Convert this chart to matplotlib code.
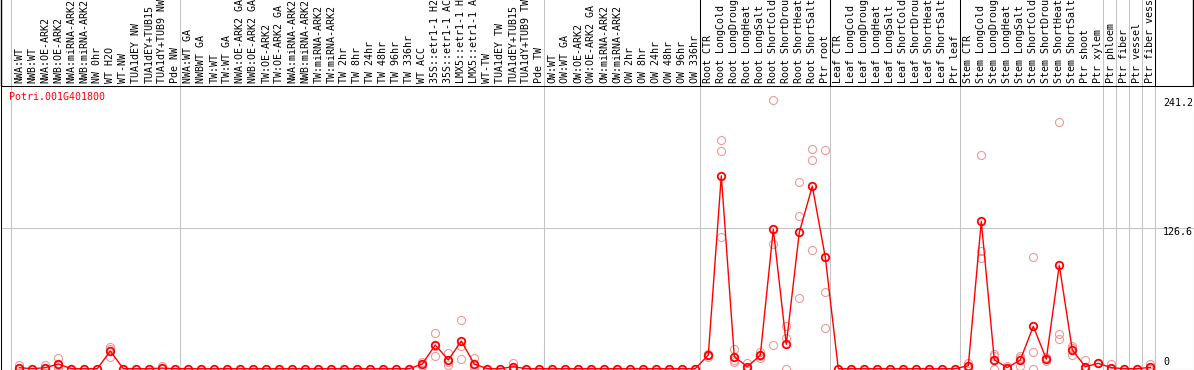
import numpy as np
import matplotlib
matplotlib.use('Agg')
import matplotlib.pyplot as plt

gene = 'Potri.001G401800'

labels = ['NWA:WT', 'NWB:WT', 'NWA:OE-ARK2', 'NWB:OE-ARK2', 'NWA:miRNA-ARK2', 'NWB:miRNA-ARK2',
          'NW 0hr', 'WT H2O', 'WT-NW', 'TUA1dEY NW', 'TUA1dEY+TUB15', 'TUA1dY+TUB9 NW', 'Pde NW',
          'NWA:WT GA', 'NWBWT GA', 'TW:WT', 'TW:WT GA', 'NWA:OE-ARK2 GA', 'NWB:OE-ARK2 GA',
          'TW:OE-ARK2', 'TW:OE-ARK2 GA', 'NWA:miRNA-ARK2', 'NWB:miRNA-ARK2', 'TW:miRNA-ARK2',
          'TW:miRNA-ARK2', 'TW 2hr', 'TW 8hr', 'TW 24hr', 'TW 48hr', 'TW 96hr', 'TW 336hr',
          'WT ACC', '35S::etr1-1 H2', '35S::etr1-1 AC', 'LMX5::etr1-1 H', 'LMX5::etr1-1 A',
          'WT-TW', 'TUA1dEY TW', 'TUA1dEY+TUB15', 'TUA1dY+TUB9 TW', 'Pde TW',
          'OW:WT', 'OW:WT GA', 'OW:OE-ARK2', 'OW:OE-ARK2 GA', 'OW:miRNA-ARK2', 'OW:miRNA-ARK2',
          'OW 2hr', 'OW 8hr', 'OW 24hr', 'OW 48hr', 'OW 96hr', 'OW 336hr',
          'Root CTR', 'Root LongCold', 'Root LongDroug', 'Root LongHeat', 'Root LongSalt',
          'Root ShortCold', 'Root ShortDrou', 'Root ShortHeat', 'Root ShortSalt', 'Ptr root',
          'Leaf CTR', 'Leaf LongCold', 'Leaf LongDroug', 'Leaf LongHeat', 'Leaf LongSalt',
          'Leaf ShortCold', 'Leaf ShortDrou', 'Leaf ShortHeat', 'Leaf ShortSalt', 'Ptr leaf',
          'Stem CTR', 'Stem LongCold', 'Stem LongDroug', 'Stem LongHeat', 'Stem LongSalt',
          'Stem ShortCold', 'Stem ShortDrou', 'Stem ShortHeat', 'Stem ShortSalt', 'Ptr shoot',
          'Ptr xylem', 'Ptr phloem', 'Ptr fiber', 'Ptr vessel', 'Ptr fiber vess']

means = [0.9, 0, 0.9, 4.2, 0, 0, 0, 15.9, 0, 0, 0, 0.5, 0,
         0, 0, 0, 0, 0, 0, 0, 0, 0, 0, 0, 0, 0, 0, 0, 0, 0, 0,
         4.2, 21.3, 7.8, 24.8, 4.2, 0, 0, 1.8, 0, 0,
         0, 0, 0, 0, 0, 0, 0, 0, 0, 0, 0, 0,
         12.3, 173.0, 10.8, 1.8, 12.0, 125.0, 21.9, 122.3, 163.6, 99.9,
         0, 0, 0, 0, 0, 0, 0, 0, 0, 0,
         2.7, 132.2, 8.0, 1.0, 7.8, 38.0, 8.6, 92.7, 16.8, 1.8, 4.8,
         0.9, 0, 0, 1.2]

# replicate values, by sample index
reps = {0: [3.3, 0, 0], 2: [3.3, 0, 0], 3: [9.3, 3.0, 0.5], 7: [19.7, 17.6, 10.2],
        11: [2.7, 0], 31: [6.2, 4.0, 2.4], 32: [31.7, 20.8, 11.4], 33: [13.8, 6.3, 3.3],
        34: [43.7, 20.4, 8.4], 35: [9.3, 2.4, 0.9], 38: [5.4, 0, 0],
        53: [13.5, 12.6, 10.8], 54: [204.8, 195.0, 118.4], 55: [18.0, 7.8, 6.3],
        56: [5.4, 0, 0], 57: [15.3, 11.0, 9.9], 58: [241.2, 111.6, 21.3],
        59: [38.3, 27.8, 0], 60: [167.4, 137.0, 63.1], 61: [196.8, 187.2, 106.2],
        62: [195.9, 68.8, 36.5], 73: [5.0, 2.4, 0.6], 74: [191.4, 105.8, 99.0],
        75: [12.9, 11.4, 0], 76: [2.4, 0.6, 0], 77: [11.4, 9.3, 2.7], 78: [99.9, 15.3, 0],
        79: [10.8, 8.4, 6.9], 80: [221.0, 31.1, 26.4], 81: [20.4, 18.3, 12.0],
        82: [7.5, 0, 0], 83: [5.5], 84: [4.2, 0], 87: [4.2, 0]}

group_starts = [0, 13, 41, 53, 63, 73, 84, 85, 86, 87, 88]
dark_starts = [53, 63, 73, 88]
ytick_vals = [241.2, 126.6, 0]

W, H = 1194, 370
fig = plt.figure(figsize=(W / 100, H / 100), dpi=100)

# plot box in pixels (label strip sits above it)
left, right, top, bottom = 0.5, 1193.5, 85.5, 369.5
ax = fig.add_axes([left / W, 1 - bottom / H, (right - left) / W, (bottom - top) / H])
x0, dx = 19.3, 13.0
y0, k = 368.7, 1.115
ax.set_xlim((left - x0) / dx, (right - x0) / dx)
ax.set_ylim((y0 - bottom) / k, (y0 - top) / k)
ax.set_xticks([])
ax.set_yticks([])
for s in ax.spines.values():
    s.set_color('black')
    s.set_linewidth(0.75)

y_fig_top = y0 / k
y_lab = (y0 - 83) / k
mono = 'DejaVu Sans Mono'
fs = 7.2

# group separators
for g in group_starts:
    xs = g - 0.64
    ax.axvline(xs, color='#c4c4c4', lw=0.75, zorder=0)
    c = 'black' if g in dark_starts else '#c4c4c4'
    ax.plot([xs, xs], [ax.get_ylim()[1], y_fig_top + 5], color=c, lw=0.75, clip_on=False)

for xe in ax.get_xlim():
    ax.plot([xe, xe], [ax.get_ylim()[1], y_fig_top + 5], color='black', lw=1.0, clip_on=False)

ax.axhline(ytick_vals[1], color='#c4c4c4', lw=0.75, zorder=0)

x = np.arange(len(means))
for i, lab in enumerate(labels):
    ax.text(i, y_lab, lab, rotation=90, ha='center', va='bottom', family=mono,
            fontsize=fs, clip_on=False)

for i, r in reps.items():
    ax.plot([i] * len(r), r, linestyle='none', marker='o', ms=5.8, mfc='none',
            mec='#ee9a9a', mew=0.8, zorder=2)

ax.plot(x, means, color='red', lw=1.0, marker='o', ms=5.4, mfc='none', mec='red',
        mew=1.3, zorder=3)

ax.text((9.3 - x0) / dx, (y0 - 97) / k, gene, color='red', family=mono, fontsize=fs,
        ha='left', va='center')

xt = (1163 - x0) / dx
ax.text(xt, ytick_vals[0] + 1.5, '241.2', family=mono, fontsize=fs, ha='left', va='top')
ax.text(xt, ytick_vals[1] + 0.5, '126.6', family=mono, fontsize=fs, ha='left', va='top')
ax.text(xt, ytick_vals[2] + 1.5, '0', family=mono, fontsize=fs, ha='left', va='bottom')

fig.savefig('out.png', dpi=100)
